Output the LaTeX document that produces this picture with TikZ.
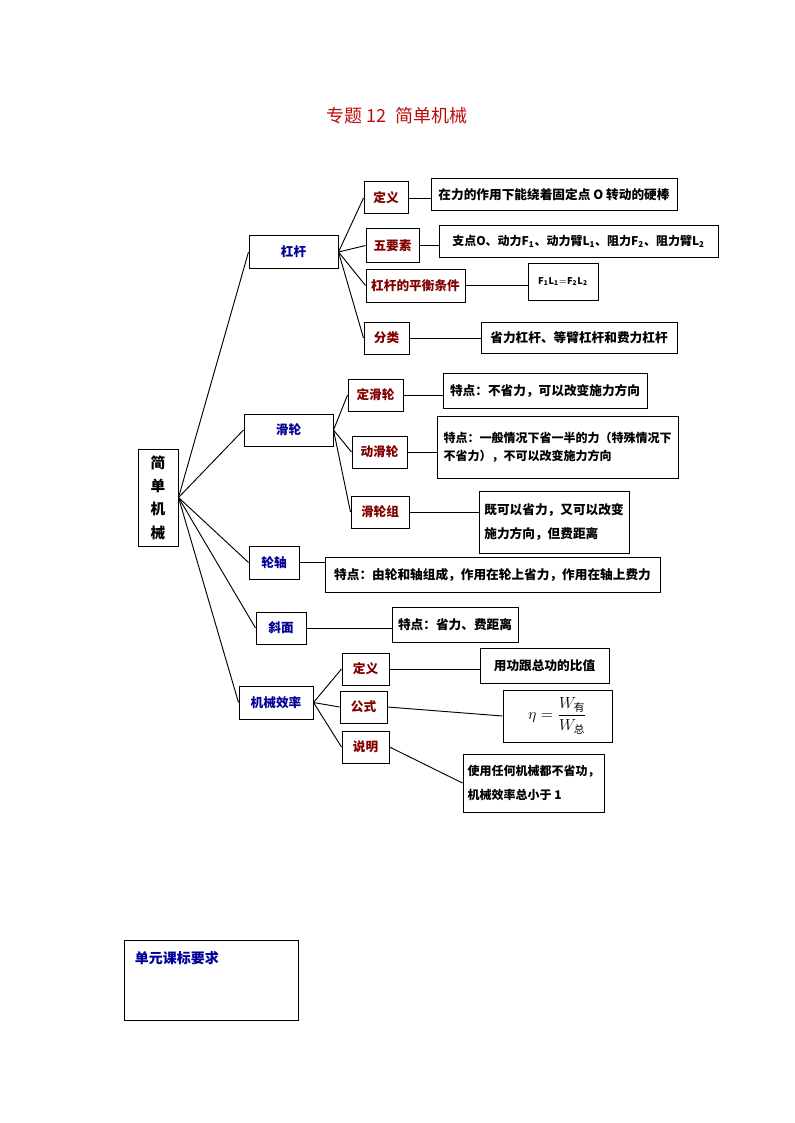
\documentclass[tikz,border=0pt]{standalone}
\usepackage{fontspec}
\usepackage{amsmath}
\setmainfont{Noto Sans CJK SC}

\definecolor{labelblue}{RGB}{0,0,150}
\definecolor{labelred}{RGB}{130,0,0}
\definecolor{titlered}{RGB}{190,10,10}

\tikzset{
  box/.style={draw, line width=0.75pt, inner sep=0pt, font=\fontsize{9.5}{13}\selectfont\bfseries},
  wh/.style 2 args={minimum width=#1*0.75pt, minimum height=#2*0.75pt},
  topic/.style={box, text=labelblue},
  part/.style={box, text=labelred},
  note/.style={box, align=left, inner xsep=2.5pt},
  link/.style={line width=0.7pt},
}

\begin{document}
\begin{tikzpicture}[x=0.75pt, y=-0.75pt]
    \useasboundingbox (0,0) rectangle (794,1123);

    % title
    \node[text=titlered, font=\fontsize{13.5}{16}\selectfont] (title) at (397,116) {专题 12\ \ 简单机械};

    % root and main branches
    \node[box, wh={40}{97}, align=center, font=\fontsize{11}{17.5}\selectfont\bfseries] (root) at (158,497.5) {简\\单\\机\\械};
    \node[topic, wh={89}{32}] (lever) at (293.5,252) {杠杆};
    \node[topic, wh={89}{32}] (pulley) at (288.5,430) {滑轮};
    \node[topic, wh={50}{33}] (wheel) at (274,562.5) {轮轴};
    \node[topic, wh={50}{32}] (incline) at (281,628) {斜面};
    \node[topic, wh={74}{33}] (effic) at (276,702.5) {机械效率};

    \draw[link] (root.east) -- (lever.west);
    \draw[link] (root.east) -- (pulley.west);
    \draw[link] (root.east) -- (wheel.west);
    \draw[link] (root.east) -- (incline.west);
    \draw[link] (root.east) -- (effic.west);

    % lever
    \node[part, wh={44}{32}] (ldef) at (386,198) {定义};
    \node[part, wh={53}{33}] (lfive) at (392.5,245.5) {五要素};
    \node[part, wh={99}{33}] (lbal) at (415.5,285.5) {杠杆的平衡条件};
    \node[part, wh={45}{32}] (lcls) at (386.5,338) {分类};

    \node[note, wh={246}{32}] (ldeft) at (554,195) {在力的作用下能绕着固定点 O 转动的硬棒};
    \node[note, wh={279}{31}, font=\fontsize{9}{13}\selectfont\bfseries] (lfivet) at (578.5,241.5) {支点O、动力F\textsubscript{1}、动力臂L\textsubscript{1}、阻力F\textsubscript{2}、阻力臂L\textsubscript{2}};
    \node[note, wh={70}{37}, font=\fontsize{7}{8}\selectfont] (lbalt) at (563,281.5) {$\mathbf{F_{1}L_{1}{=}F_{2}L_{2}}$};
    \node[note, wh={196}{31}] (lclst) at (579,337.5) {省力杠杆、等臂杠杆和费力杠杆};

    \draw[link] (lever.east) -- (ldef.west);
    \draw[link] (lever.east) -- (lfive.west);
    \draw[link] (lever.east) -- (lbal.west);
    \draw[link] (lever.east) -- (lcls.west);
    \draw[link] (ldef.east) -- (ldef.east -| ldeft.west);
    \draw[link] (lfive.east) -- (lfive.east -| lfivet.west);
    \draw[link] (lbal.east) -- (lbal.east -| lbalt.west);
    \draw[link] (lcls.east) -- (lcls.east -| lclst.west);

    % pulley
    \node[part, wh={55}{32}] (pfix) at (375.5,395) {定滑轮};
    \node[part, wh={55}{32}] (pmov) at (379.5,452) {动滑轮};
    \node[part, wh={58}{32}] (pset) at (380,512) {滑轮组};

    \node[note, wh={204}{35}] (pfixt) at (545,390.5) {特点：不省力，可以改变施力方向};
    \node[note, wh={241}{62}, font=\fontsize{9}{13.5}\selectfont\bfseries] (pmovt) at (557.5,447) {特点：一般情况下省一半的力（特殊情况下\\不省力），不可以改变施力方向};
    \node[note, wh={150}{62}, font=\fontsize{9.5}{18}\selectfont\bfseries] (psett) at (554,522) {既可以省力，又可以改变\\施力方向，但费距离};

    \draw[link] (pulley.east) -- (pfix.west);
    \draw[link] (pulley.east) -- (pmov.west);
    \draw[link] (pulley.east) -- (pset.west);
    \draw[link] (pfix.east) -- (pfix.east -| pfixt.west);
    \draw[link] (pmov.east) -- (pmov.east -| pmovt.west);
    \draw[link] (pset.east) -- (pset.east -| psett.west);

    % wheel and axle, incline
    \node[note, wh={335}{35}] (wheelt) at (492.5,574.5) {特点：由轮和轴组成，作用在轮上省力，作用在轴上费力};
    \node[note, wh={126}{35}] (inclinet) at (455,624.5) {特点：省力、费距离};

    \draw[link] (wheel.east) -- (wheel.east -| wheelt.west);
    \draw[link] (incline.east) -- (incline.east -| inclinet.west);

    % efficiency
    \node[part, wh={47}{32}] (edef) at (365.5,669) {定义};
    \node[part, wh={47}{32}] (eform) at (363.5,707) {公式};
    \node[part, wh={47}{32}] (enote) at (365.5,747) {说明};

    \node[note, wh={129}{35}] (edeft) at (544.5,665.5) {用功跟总功的比值};
    \node[note, wh={109}{52}, font=\fontsize{12}{14}\selectfont] (eformt) at (557.5,716) {$\eta = \dfrac{W_{\text{有}}}{W_{\text{总}}}$};
    \node[note, wh={141}{58}, font=\fontsize{9}{18}\selectfont\bfseries] (enotet) at (533.5,783) {使用任何机械都不省功，\\机械效率总小于 1};

    \draw[link] (effic.east) -- (edef.west);
    \draw[link] (effic.east) -- (eform.west);
    \draw[link] (effic.east) -- (enote.west);
    \draw[link] (edef.east) -- (edef.east -| edeft.west);
    \draw[link] (eform.east) -- (eformt.west);
    \draw[link] (enote.east) -- (enotet.west);

    % requirements box
    \node[draw, line width=0.75pt, wh={174}{80}] (req) at (211,980) {};
    \node[anchor=north west, inner sep=0pt, text=labelblue, font=\fontsize{10.5}{12}\selectfont\bfseries] (reqt) at ([shift={(11,12)}]req.north west) {单元课标要求};
\end{tikzpicture}
\end{document}
